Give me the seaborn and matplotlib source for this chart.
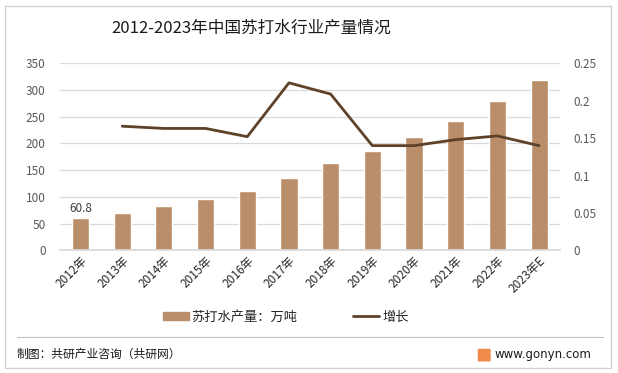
import numpy as np
import pandas as pd
import matplotlib
matplotlib.use("Agg")
import matplotlib.pyplot as plt
import matplotlib.patches as mpatches
import matplotlib.lines as mlines
import seaborn as sns

#%%
# - Data
"---------------------------------------------------------------------------"

years = ['2012年', '2013年', '2014年', '2015年', '2016年', '2017年',
         '2018年', '2019年', '2020年', '2021年', '2022年', '2023年E']
output = [60.8, 70.7, 82.2, 95.6, 110.1, 134.8, 162.9, 185.7, 211.7, 243.0, 280.2, 319.4]
growth = [np.nan, 0.166, 0.163, 0.163, 0.152, 0.224, 0.209, 0.140, 0.140, 0.148, 0.153, 0.140]

df = pd.DataFrame({'year': years, 'output': output, 'growth': growth})
df['pos'] = np.arange(len(df))

#%%
# - Plot settings
"---------------------------------------------------------------------------"

sns.set_theme(style='white')
plt.rcParams['font.family'] = ['Noto Sans CJK SC', 'DejaVu Sans']

bar_color = '#BB8E6B'
line_color = '#5E4129'
grid_color = '#D9D9D9'
tick_color = '#595959'

fig = plt.figure(figsize=(6.18, 3.73), dpi=100)
fig.patch.set_facecolor('white')
ax = fig.add_axes([0.0966, 0.329, 0.8094, 0.501])

# bars
sns.barplot(data=df, x='year', y='output', color=bar_color, width=0.41,
            saturation=1, ax=ax, zorder=2)
ax.set_ylim(0, 350)
ax.set_yticks(np.arange(0, 351, 50))
ax.set_xlim(-0.5, len(df) - 0.5)
ax.yaxis.grid(True, color=grid_color, linewidth=0.9, zorder=0)
ax.set_axisbelow(True)
for s in ['top', 'right', 'left']:
    ax.spines[s].set_visible(False)
ax.spines['bottom'].set_color(grid_color)
ax.set_xlabel('')
ax.set_ylabel('')
ax.tick_params(axis='y', length=0, pad=10, labelsize=8.5, labelcolor=tick_color)
ax.tick_params(axis='x', length=0, pad=3, labelsize=8.5, labelcolor='#262626')
plt.setp(ax.get_xticklabels(), rotation=45, ha='right', rotation_mode='anchor')

# data label for first bar
ax.text(0, output[0] + 6, f'{output[0]}', ha='center', va='bottom',
        fontsize=8.5, color='#404040')

# growth line
ax2 = ax.twinx()
sns.lineplot(data=df, x='pos', y='growth', color=line_color, linewidth=2,
             ax=ax2, zorder=3)
ax2.set_ylim(0, 0.25)
ax2.set_yticks([0, 0.05, 0.1, 0.15, 0.2, 0.25])
ax2.set_yticklabels(['0', '0.05', '0.1', '0.15', '0.2', '0.25'])
ax2.set_xlim(-0.5, len(df) - 0.5)
ax2.set_ylabel('')
ax2.set_xlabel('')
for s in ['top', 'right', 'left', 'bottom']:
    ax2.spines[s].set_visible(False)
ax2.tick_params(axis='y', length=0, pad=10, labelsize=8.5, labelcolor=tick_color)
ax2.grid(False)

# title
fig.text(0.407, 0.924, '2012-2023年中国苏打水行业产量情况', ha='center', va='center',
         fontsize=12, fontweight='light', color='#1a1a1a')

# legend
h_bar = mpatches.Patch(color=bar_color, label='苏打水产量：万吨')
h_line = mlines.Line2D([], [], color=line_color, linewidth=2, label='增长')
fig.legend(handles=[h_bar, h_line], loc='center', bbox_to_anchor=(0.462, 0.15),
           ncol=2, frameon=False, fontsize=9.5, handlelength=2.0, handleheight=0.55,
           columnspacing=4.2, handletextpad=0.2)

# separator and footer
fig.add_artist(mlines.Line2D([0.027, 0.976], [0.097, 0.097], color='#BFBFBF',
                             linewidth=0.8))
fig.text(0.027, 0.05, '制图：共研产业咨询（共研网）', ha='left', va='center',
         fontsize=8.5, color='#1a1a1a')
fig.add_artist(mpatches.FancyBboxPatch((0.775, 0.033), 0.017, 0.03,
                                       boxstyle='round,pad=0.002',
                                       transform=fig.transFigure,
                                       facecolor='#F08A4B', edgecolor='none'))
fig.text(0.800, 0.05, 'www.gonyn.com', ha='left', va='center',
         fontsize=8.5, color='#1a1a1a', family='DejaVu Sans')

# outer border
fig.add_artist(mpatches.Rectangle((0.008, 0.013), 0.981, 0.971, fill=False,
                                  edgecolor='#D0D0D0', linewidth=1,
                                  transform=fig.transFigure))

fig.savefig('out.png', dpi=100, facecolor='white')
